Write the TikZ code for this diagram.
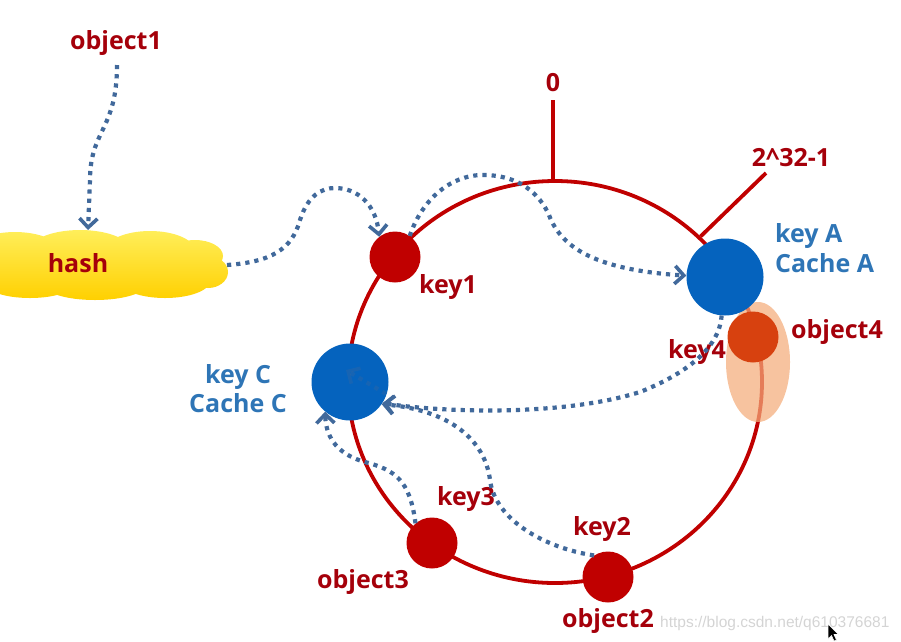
\documentclass[tikz,border=0pt]{standalone}
\usepackage{fontspec}
\setmainfont{Open Sans}
\newfontfamily\wmfont{Liberation Sans}
\usetikzlibrary{arrows.meta,shapes.geometric}
\definecolor{ringred}{RGB}{192,0,0}
\definecolor{txtred}{RGB}{165,0,10}
\definecolor{nodeblue}{RGB}{5,99,190}
\definecolor{txtblue}{RGB}{46,117,182}
\definecolor{arrowblue}{RGB}{65,105,155}
\definecolor{objfour}{RGB}{215,65,15}
\definecolor{halo}{RGB}{244,172,122}
\definecolor{cloudtop}{RGB}{255,238,90}
\definecolor{cloudbot}{RGB}{255,208,0}
\definecolor{wmgray}{RGB}{212,212,212}
\begin{document}
\begin{tikzpicture}[x=1pt,y=-1pt,
 redlbl/.style={text=txtred,font=\bfseries\fontsize{25}{28}\selectfont,inner sep=0pt,anchor=base},
 bluelbl/.style={text=txtblue,font=\bfseries\fontsize{25}{28}\selectfont,inner sep=0pt,anchor=base},
 keydot/.style={circle,fill=ringred,minimum size=51pt,inner sep=0pt},
 cachedot/.style={circle,fill=nodeblue,minimum size=77pt,inner sep=0pt},
 flow/.style={draw=arrowblue,line width=4.2pt,dash pattern=on 4.2pt off 5pt,
   -{Straight Barb[length=9pt,width=18pt,line width=3.6pt]}},
 ringline/.style={draw=ringred,line width=3.8pt}]
\useasboundingbox (0,0) rectangle (901,641);
% hash cloud
\shade[top color=cloudtop,bottom color=cloudbot]
  (15,262) ellipse [x radius=55,y radius=30]
  (80,252) ellipse [x radius=52,y radius=22]
  (150,251) ellipse [x radius=45,y radius=20]
  (195,256) ellipse [x radius=28,y radius=16]
  (208,272) ellipse [x radius=20,y radius=16]
  (165,281) ellipse [x radius=45,y radius=17]
  (95,284) ellipse [x radius=52,y radius=16]
  (30,283) ellipse [x radius=45,y radius=15]
  (110,266) ellipse [x radius=108,y radius=27];
\node[redlbl] (hash) at (78,272) {hash};
\coordinate (hashin) at (88,230);
\coordinate (hashout) at (227,265);
\node[redlbl] (obj1) at (116,49) {object1};
\coordinate (o1s) at (117,65);
% ring
\node[ellipse,ringline,minimum width=414pt,minimum height=402pt,inner sep=0pt] (ring) at (555,382) {};
\coordinate (ringtop) at (553,182);
\coordinate (zerotop) at (553,100);
\coordinate (maxtop) at (766,173);
\draw[ringline] (ringtop) -- (zerotop);
\draw[ringline] (ring.45) -- (maxtop);
\fill[halo,opacity=0.72] (758,362) ellipse [x radius=32,y radius=60];
\node[redlbl] (zero) at (553,91) {0};
\node[redlbl] (maxlbl) at (791,166) {2\^{}32-1};
% nodes
\node[keydot] (key1) at (395,257) {};
\node[redlbl] (key1l) at (448,293) {key1};
\node[cachedot] (keyA) at (725,277) {};
\node[bluelbl,anchor=base west] (keyAl1) at (775,242) {key A};
\node[bluelbl,anchor=base west] (keyAl2) at (775,272) {Cache A};
\node[circle,fill=objfour,minimum size=51pt,inner sep=0pt] (key4) at (753,337) {};
\node[redlbl] (obj4) at (837,338) {object4};
\node[redlbl] (key4l) at (697,358) {key4};
\node[cachedot] (keyC) at (350,382) {};
\node[bluelbl] (keyCl1) at (238,383) {key C};
\node[bluelbl] (keyCl2) at (238,412) {Cache C};
\node[keydot] (key3) at (432,543) {};
\node[redlbl] (key3l) at (466,505) {key3};
\node[redlbl] (obj3) at (363,588) {object3};
\node[keydot] (key2) at (608,577) {};
\node[redlbl] (key2l) at (602,535) {key2};
\node[redlbl] (obj2) at (608,627) {object2};
% flows
\draw[flow] (o1s) .. controls (117,130) and (90,130) .. (90,180) -- (hashin);
\draw[flow] (hashout) .. controls (270,262) and (292,250) .. (300,220)
   .. controls (308,195) and (322,188) .. (335,188)
   .. controls (358,188) and (376,205) .. (key1.128);
\draw[flow] (key1.55) .. controls (420,205) and (445,177) .. (480,175)
   .. controls (520,174) and (540,195) .. (549,215)
   .. controls (562,250) and (600,270) .. (keyA.178);
\draw[flow] (keyA.-95) .. controls (720,340) and (700,368) .. (640,392)
   .. controls (560,417) and (440,412) .. (keyC.-33);
\draw[flow] (key2.123) .. controls (545,548) and (495,520) .. (490,480)
   .. controls (485,440) and (450,410) .. (keyC.-35);
\draw[flow] (key3.130) .. controls (410,480) and (395,470) .. (365,462)
   .. controls (340,455) and (326,440) .. (keyC.-130);
\coordinate (fadeA) at (386,394);
\coordinate (fadeB) at (346,370);
\draw[flow,opacity=0.3] (fadeA) -- (fadeB);
\node[text=wmgray,font=\wmfont\fontsize{15.5}{17}\selectfont,anchor=base west,inner sep=0pt] (wm) at (660,627) {https://blog.csdn.net/q610376681};
\filldraw[fill=black,draw=white,line width=0.6pt] (828,624) -- (828,639) -- (831.5,635.5) -- (834,641) -- (836.5,640) -- (834,634.5) -- (838.5,634.5) -- cycle;
\end{tikzpicture}
\end{document}
